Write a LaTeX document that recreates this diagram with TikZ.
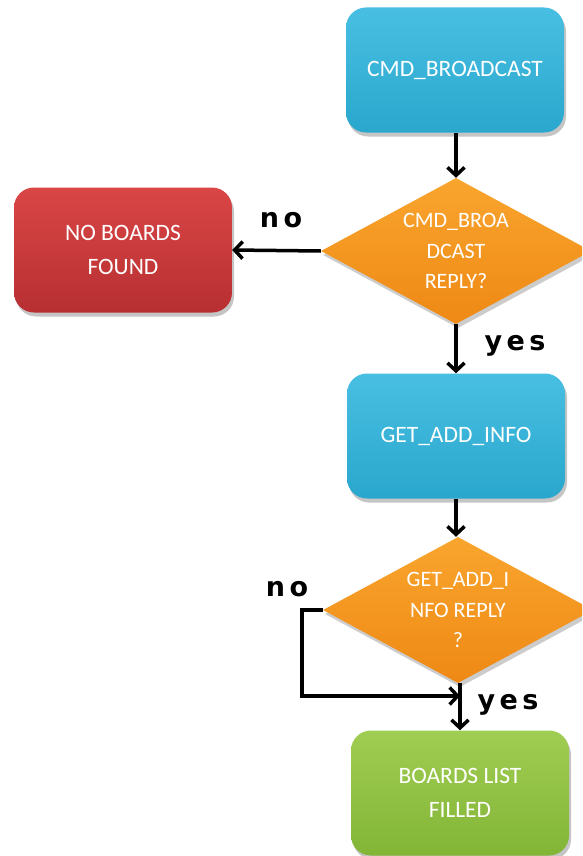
\documentclass[tikz,border=0pt]{standalone}
\usepackage{fontspec}
\setmainfont{Carlito}
\newfontfamily\labfont{DejaVu Sans}
\usetikzlibrary{shapes.geometric,arrows.meta,shadows}
\definecolor{bluetop}{HTML}{48BFE2}
\definecolor{bluebot}{HTML}{2AA7CD}
\definecolor{redtop}{HTML}{DA4646}
\definecolor{redbot}{HTML}{B72F32}
\definecolor{ortop}{HTML}{F9A52E}
\definecolor{orbot}{HTML}{EE8914}
\definecolor{grtop}{HTML}{A0CD53}
\definecolor{grbot}{HTML}{82B536}
\tikzset{
  x=1pt, y=-1pt,
  box/.style={rectangle, rounded corners=20pt, minimum width=218pt, minimum height=125pt,
    inner sep=0pt, align=center, text=white, font=\fontsize{23.5}{34}\selectfont,
    drop shadow={shadow xshift=2pt, shadow yshift=-4pt, opacity=0.45}},
  bluebox/.style={box, top color=bluetop, bottom color=bluebot},
  redbox/.style={box, top color=redtop, bottom color=redbot},
  greenbox/.style={box, top color=grtop, bottom color=grbot},
  decide/.style={diamond, minimum width=270pt, minimum height=146pt, inner sep=0pt,
    top color=ortop, bottom color=orbot,
    drop shadow={shadow xshift=2pt, shadow yshift=-4pt, opacity=0.4}},
  dtext/.style={align=center, text=white, inner sep=0pt, font=\fontsize{22}{30.5}\selectfont},
  arr/.style={line width=3.5pt, -{Straight Barb[length=8pt,width=17pt,line width=3.5pt]}},
  lab/.style={font=\labfont\bfseries\fontsize{27}{27}\selectfont, text=black}
}
\begin{document}
\begin{tikzpicture}
\useasboundingbox (0,0) rectangle (582,856);
\clip (0,0) rectangle (582,856);
\fill[white] (0,0) rectangle (582,856);
\node[bluebox] (cmd) at (455,70) {CMD\_BROADCAST};
\node[decide] (d1) at (456,251) {};
\node[dtext] (d1t) at (456,251) {CMD\_BROA\\DCAST\\REPLY?};
\node[redbox] (nob) at (123,250) {NO BOARDS\\FOUND};
\node[bluebox] (get) at (456,436) {GET\_ADD\_INFO};
\node[decide] (d2) at (458,610) {};
\node[dtext] (d2t) at (458,610) {GET\_ADD\_I\\NFO REPLY\\?};
\node[greenbox] (fin) at (460,793) {BOARDS LIST\\FILLED};
\coordinate (j) at (460,696);
\draw[arr] (cmd.south -| d1.north) -- (d1.north);
\draw[arr] (d1.west) -- (nob.east);
\draw[arr] (d1.south) -- (get.north -| d1.south);
\draw[arr] (get.south) -- (d2.north -| get.south);
\draw[arr] (d2.west) -- ++(-21,0) |- (j);
\draw[arr] (d2.south -| fin.north) -- (fin.north);
\node[lab] (no1) at (281,220) {n\,o};
\node[lab] (yes1) at (515,346) {y\,e\,s};
\node[lab] (no2) at (287,589) {n\,o};
\node[lab] (yes2) at (508,705) {y\,e\,s};
\end{tikzpicture}
\end{document}
